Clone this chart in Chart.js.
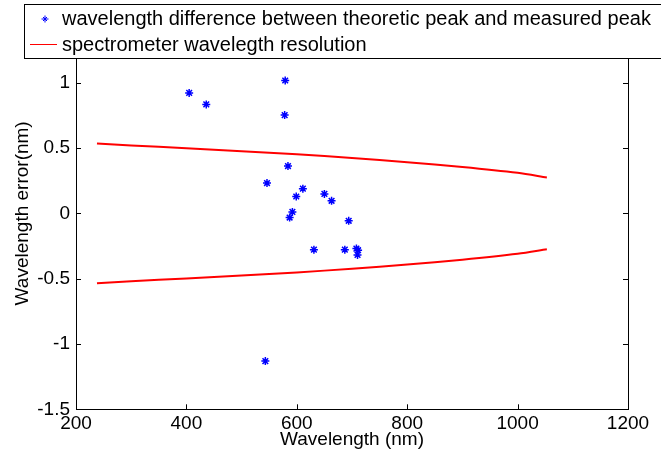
<!DOCTYPE html>
<html>
<head>
<meta charset="utf-8">
<script src="https://cdn.jsdelivr.net/npm/chart.js@4.4.0/dist/chart.umd.min.js"></script>
<style>
  html, body { margin: 0; padding: 0; background: #fff; }
  #wrap { width: 661px; height: 462px; }
</style>
</head>
<body>
<div id="wrap"><canvas id="myChart" width="661" height="462"></canvas></div>
<script>
// measured peaks: wavelength (nm) and error (nm)
const peakWavelengths = [405, 436, 579, 578, 584, 546, 611, 599, 592, 587, 650, 663, 694, 631, 687, 708, 711, 710, 543];
const peakErrors = [0.922, 0.834, 1.017, 0.752, 0.362, 0.232, 0.189, 0.129, 0.011, -0.032, 0.149, 0.096, -0.057, -0.278, -0.278, -0.27, -0.282, -0.318, -1.131];

// spectrometer resolution (+/-)
const resWavelengths = [238, 300, 400, 500, 600, 700, 800, 900, 1000, 1053];
const resolution = [0.535, 0.52, 0.498, 0.476, 0.452, 0.424, 0.392, 0.355, 0.31, 0.275];

const xTicks = [200, 400, 600, 800, 1000, 1200];
const yTicks = [-1.5, -1, -0.5, 0, 0.5, 1, 1.5];

const seriesLabels = [
  "wavelength difference between theoretic peak and measured peak",
  "spectrometer wavelegth resolution"
];

const FONT = "'Liberation Sans', Arial, sans-serif";

const toPoints = (xs, ys, sign) => xs.map((x, i) => ({ x: x, y: sign * ys[i] }));

// MATLAB style box with inward ticks
const boxPlugin = {
  id: "box",
  afterDatasetsDraw(chart) {
    const { ctx, chartArea: a, scales } = chart;
    ctx.save();
    ctx.strokeStyle = "#000";
    ctx.lineWidth = 1;
    ctx.strokeRect(Math.round(a.left) + 0.5, Math.round(a.top) + 0.5,
      Math.round(a.right - a.left), Math.round(a.bottom - a.top));
    ctx.beginPath();
    const len = 5;
    scales.x.ticks.forEach(t => {
      const px = Math.round(scales.x.getPixelForValue(t.value)) + 0.5;
      ctx.moveTo(px, a.bottom); ctx.lineTo(px, a.bottom - len);
      ctx.moveTo(px, a.top); ctx.lineTo(px, a.top + len);
    });
    scales.y.ticks.forEach(t => {
      const py = Math.round(scales.y.getPixelForValue(t.value)) + 0.5;
      ctx.moveTo(a.left, py); ctx.lineTo(a.left + len, py);
      ctx.moveTo(a.right, py); ctx.lineTo(a.right - len, py);
    });
    ctx.stroke();
    ctx.restore();
  },
  afterDraw(chart) {
    // legend box overlapping the top of the axes
    const { ctx } = chart;
    ctx.save();
    ctx.fillStyle = "#fff";
    ctx.fillRect(24, 4, 660, 54);
    ctx.strokeStyle = "#000";
    ctx.lineWidth = 1;
    ctx.strokeRect(24.5, 4.5, 660, 54);

    // star marker
    ctx.strokeStyle = "#0000ff";
    ctx.beginPath();
    const sx = 45, sy = 19, r = 3.5;
    ctx.moveTo(sx - r, sy); ctx.lineTo(sx + r, sy);
    ctx.moveTo(sx, sy - r); ctx.lineTo(sx, sy + r);
    ctx.moveTo(sx - 2, sy - 2); ctx.lineTo(sx + 2, sy + 2);
    ctx.moveTo(sx - 2, sy + 2); ctx.lineTo(sx + 2, sy - 2);
    ctx.stroke();

    // red line
    ctx.strokeStyle = "#ff0000";
    ctx.beginPath();
    ctx.moveTo(30, 44.5); ctx.lineTo(57, 44.5);
    ctx.stroke();

    ctx.fillStyle = "#000";
    ctx.font = "20px " + FONT;
    ctx.textBaseline = "middle";
    ctx.fillText(seriesLabels[0], 62, 19);
    ctx.fillText(seriesLabels[1], 62, 45);
    ctx.restore();
  }
};

const resLine = (sign) => ({
  label: seriesLabels[1],
  type: "line",
  data: toPoints(resWavelengths, resolution, sign),
  borderColor: "#ff0000",
  borderWidth: 2,
  pointRadius: 0,
  tension: 0.3,
  fill: false,
  order: 1
});

new Chart(document.getElementById("myChart").getContext("2d"), {
  type: "scatter",
  data: {
    datasets: [
      {
        label: seriesLabels[0],
        data: toPoints(peakWavelengths, peakErrors, 1),
        pointStyle: "star",
        pointRadius: 4,
        borderColor: "#0000ff",
        backgroundColor: "#0000ff",
        borderWidth: 1.5,
        order: 0
      },
      resLine(1),
      resLine(-1)
    ]
  },
  options: {
    responsive: false,
    animation: false,
    layout: { padding: { left: 0, top: 11, right: 33, bottom: 0 } },
    plugins: { legend: { display: false }, tooltip: { enabled: false } },
    scales: {
      x: {
        type: "linear",
        min: 200,
        max: 1200,
        afterBuildTicks: s => { s.ticks = xTicks.map(v => ({ value: v })); },
        afterFit: s => { s.height = 52.7; },
        grid: { display: false, drawTicks: false },
        border: { display: false },
        ticks: { color: "#000", font: { family: FONT, size: 19 }, padding: 3, maxRotation: 0, callback: v => String(v) },
        title: {
          display: true,
          text: "Wavelength (nm)",
          color: "#000",
          font: { family: FONT, size: 19 },
          padding: { top: 0, bottom: 11 }
        }
      },
      y: {
        type: "linear",
        min: -1.5,
        max: 1.5,
        afterBuildTicks: s => { s.ticks = yTicks.map(v => ({ value: v })); },
        afterFit: s => { s.width = 76; },
        grid: { display: false, drawTicks: false },
        border: { display: false },
        ticks: { color: "#000", font: { family: FONT, size: 19 }, padding: 6, callback: v => String(v) },
        title: {
          display: true,
          text: "Wavelength error(nm)",
          color: "#000",
          font: { family: FONT, size: 19 },
          padding: { top: 11, bottom: 0 }
        }
      }
    }
  },
  plugins: [boxPlugin]
});
</script>
</body>
</html>
